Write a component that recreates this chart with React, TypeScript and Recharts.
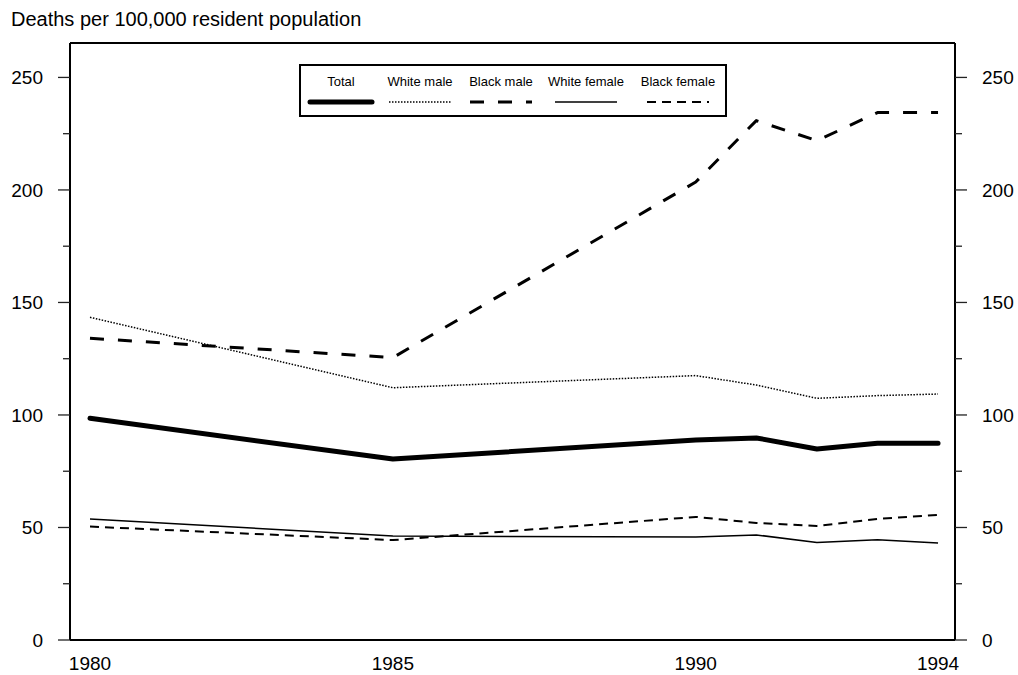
import React from 'react';
import { LineChart, Line, XAxis, YAxis, Legend, ReferenceLine } from 'recharts';

// ---- Data ----
const years = [1980, 1985, 1990, 1991, 1992, 1993, 1994];
const total = [98.5, 80.4, 88.9, 89.8, 84.9, 87.4, 87.4];
const whiteMale = [143.4, 112.1, 117.5, 113.3, 107.4, 108.6, 109.3];
const blackMale = [134.1, 125.5, 203.5, 230.8, 221.9, 234.4, 234.4];
const whiteFemale = [53.8, 46.2, 45.8, 46.7, 43.3, 44.6, 43.1];
const blackFemale = [50.4, 44.4, 54.7, 52.0, 50.7, 53.8, 55.6];

const seriesNames = ['Total', 'White male', 'Black male', 'White female', 'Black female'];
const xTicks = [1980, 1985, 1990, 1994];
const yTicks = [0, 25, 50, 75, 100, 125, 150, 175, 200, 225, 250];
const yMajorTicks = [0, 50, 100, 150, 200, 250];
const titleText = 'Deaths per 100,000 resident population';

const data = years.map((year, i) => ({
  year,
  Total: total[i],
  'White male': whiteMale[i],
  'Black male': blackMale[i],
  'White female': whiteFemale[i],
  'Black female': blackFemale[i],
}));

// ---- Styles ----
const FONT = '"Liberation Sans", Arial, Helvetica, sans-serif';
const Y_DOMAIN: [number, number] = [0, 265.3];
const X_DOMAIN: [number, number] = [1979.67, 1994.28];

type LineStyle = { width: number; dash?: string; cap?: 'round' | 'butt' };
const lineStyles: Record<string, LineStyle> = {
  Total: { width: 5, cap: 'round' },
  'White male': { width: 1.5, dash: '1.5 1.5' },
  'Black male': { width: 3, dash: '14 14' },
  'White female': { width: 1.5 },
  'Black female': { width: 2, dash: '9 6' },
};

const legendCenters = [42, 121, 202, 287, 379];
const TICK_SIZE = 12;
const TICK_MARGIN = 15;

const LeftTick = (props: any) => {
  const { x, y, payload } = props;
  const v = payload.value;
  const major = yMajorTicks.includes(v);
  const axisX = x + TICK_MARGIN + TICK_SIZE;
  const len = major ? 12 : 7;
  return (
    <g>
      <line x1={axisX - len} x2={axisX} y1={y} y2={y} stroke="#222" strokeWidth={1.3} />
      {major && (
        <text x={x} y={y} dy="0.36em" textAnchor="end" fontSize={19} fontFamily={FONT} fill="#000">
          {v}
        </text>
      )}
    </g>
  );
};

const RightTick = (props: any) => {
  const { x, y, payload } = props;
  const v = payload.value;
  const major = yMajorTicks.includes(v);
  const axisX = x - TICK_MARGIN - TICK_SIZE;
  const len = major ? 12 : 7;
  return (
    <g>
      <line x1={axisX} x2={axisX + len} y1={y} y2={y} stroke="#222" strokeWidth={1.3} />
      {major && (
        <text x={x} y={y} dy="0.36em" textAnchor="start" fontSize={19} fontFamily={FONT} fill="#000">
          {v}
        </text>
      )}
    </g>
  );
};

const renderLegend = (props: any) => {
  const payload = (props.payload || []) as any[];
  return (
    <svg width={428} height={53} style={{ display: 'block' }}>
      <rect x={1} y={1} width={426} height={51} fill="#fff" stroke="#000" strokeWidth={2} />
      {payload.map((entry: any, i: number) => {
        const name = String(entry.value);
        const s = lineStyles[name] || { width: 1 };
        const cx = legendCenters[seriesNames.indexOf(name)] ?? legendCenters[i];
        return (
          <g key={name}>
            <text x={cx} y={22} textAnchor="middle" fontSize={13} fontFamily={FONT} fill="#000">
              {name}
            </text>
            <line
              x1={cx - 31}
              x2={cx + 31}
              y1={38}
              y2={38}
              stroke="#000"
              strokeWidth={s.width}
              strokeDasharray={s.dash}
              strokeLinecap={s.cap || 'butt'}
            />
          </g>
        );
      })}
    </svg>
  );
};

export default function App() {
  return (
    <div
      style={{
        position: 'absolute',
        left: 0,
        top: 0,
        width: 1018,
        height: 675,
        background: '#fff',
        fontFamily: FONT,
      }}
    >
      <div
        style={{
          position: 'absolute',
          left: 11,
          top: 7.5,
          fontSize: 20,
          lineHeight: 'normal',
          color: '#000',
          whiteSpace: 'nowrap',
        }}
      >
        {titleText}
      </div>
      <LineChart width={1018} height={675} data={data} margin={{ top: 43, right: 0, bottom: 0, left: 0 }}>
        <XAxis
          dataKey="year"
          type="number"
          domain={X_DOMAIN}
          ticks={xTicks}
          allowDataOverflow
          tickLine={false}
          tickSize={0}
          tickMargin={17}
          height={35}
          axisLine={{ stroke: '#000', strokeWidth: 2 }}
          tick={{ fontSize: 19, fill: '#000', fontFamily: FONT }}
        />
        <YAxis
          yAxisId="left"
          orientation="left"
          type="number"
          domain={Y_DOMAIN}
          ticks={yTicks}
          allowDataOverflow
          interval={0}
          width={70}
          tickSize={TICK_SIZE}
          tickMargin={TICK_MARGIN}
          tickLine={false}
          axisLine={{ stroke: '#000', strokeWidth: 2 }}
          tick={<LeftTick />}
        />
        <YAxis
          yAxisId="right"
          orientation="right"
          type="number"
          domain={Y_DOMAIN}
          ticks={yTicks}
          allowDataOverflow
          interval={0}
          width={63}
          tickSize={TICK_SIZE}
          tickMargin={TICK_MARGIN}
          tickLine={false}
          axisLine={{ stroke: '#000', strokeWidth: 2 }}
          tick={<RightTick />}
        />
        <ReferenceLine yAxisId="left" y={Y_DOMAIN[1]} stroke="#000" strokeWidth={2} />
        {seriesNames.map((name) => {
          const s = lineStyles[name];
          return (
            <Line
              key={name}
              yAxisId="left"
              type="linear"
              dataKey={name}
              name={name}
              stroke="#000"
              strokeWidth={s.width}
              strokeDasharray={s.dash}
              strokeLinecap={s.cap || 'butt'}
              strokeLinejoin="round"
              dot={false}
              activeDot={false}
              isAnimationActive={false}
            />
          );
        })}
        <Legend
          layout="horizontal"
          align="center"
          verticalAlign="middle"
          content={renderLegend}
          wrapperStyle={{ left: 299, top: 64, width: 428, height: 53, margin: 0, padding: 0 }}
        />
      </LineChart>
    </div>
  );
}
